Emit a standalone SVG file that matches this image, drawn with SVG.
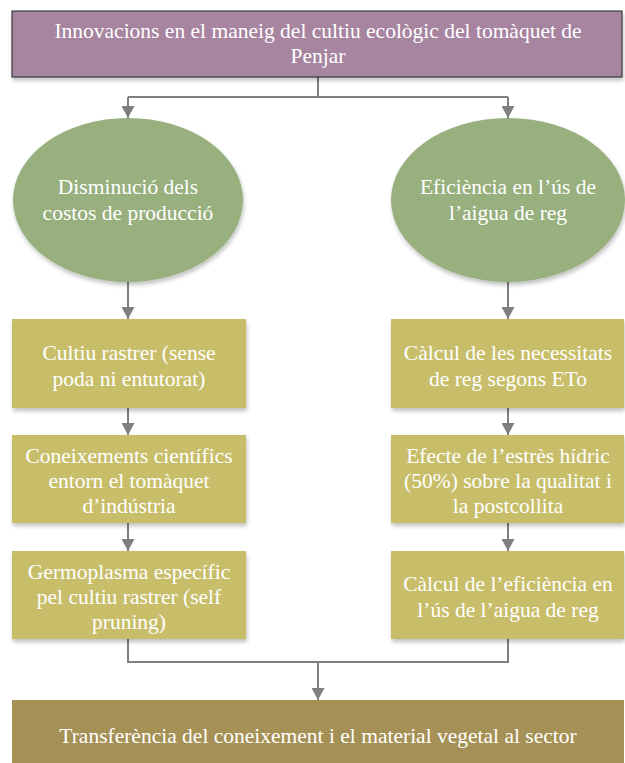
<svg xmlns="http://www.w3.org/2000/svg" width="625" height="763" viewBox="0 0 625 763">
<defs>
<filter id="sh" x="-10%" y="-10%" width="130%" height="140%">
<feGaussianBlur in="SourceAlpha" stdDeviation="2"/>
<feOffset dx="1" dy="3" result="b"/>
<feComponentTransfer><feFuncA type="linear" slope="0.25"/></feComponentTransfer>
<feMerge><feMergeNode/><feMergeNode in="SourceGraphic"/></feMerge>
</filter>
<marker id="ar" markerWidth="13" markerHeight="13" refX="12" refY="6.5" orient="auto" markerUnits="userSpaceOnUse" viewBox="0 0 13 13">
<path d="M0,0 L12,6.5 L0,13 Z" fill="#7F7F7F"/>
</marker>
</defs>
<style>
text{font-family:"Liberation Serif","DejaVu Serif",serif;font-size:21.5px;fill:#fff;text-anchor:middle}
.box{fill:#C8BE6A;filter:url(#sh)}
.ell{fill:#98AF7E;filter:url(#sh)}
.c{fill:none;stroke:#7F7F7F;stroke-width:2}
</style>
<g id="connectors">
<path class="c" d="M318,77 V97 M128,97 H508"/>
<path class="c" d="M128,97 V118" marker-end="url(#ar)"/>
<path class="c" d="M508,97 V118" marker-end="url(#ar)"/>
<path class="c" d="M128,282 V319" marker-end="url(#ar)"/>
<path class="c" d="M508,282 V319" marker-end="url(#ar)"/>
<path class="c" d="M128,408 V435" marker-end="url(#ar)"/>
<path class="c" d="M508,408 V435" marker-end="url(#ar)"/>
<path class="c" d="M128,523 V551" marker-end="url(#ar)"/>
<path class="c" d="M508,523 V551" marker-end="url(#ar)"/>
<path class="c" d="M128,639 V662 H508 V639"/>
<path class="c" d="M318,662 V700" marker-end="url(#ar)"/>
</g>
<g id="top">
<rect x="12" y="11" width="610" height="66" fill="#A7849F" stroke="#222" stroke-width="1" filter="url(#sh)"/>
<text x="318" y="38">Innovacions en el maneig del cultiu ecològic del tomàquet de</text>
<text x="318" y="63">Penjar</text>
</g>
<g id="ellipseL">
<ellipse class="ell" cx="128" cy="200" rx="115" ry="82"/>
<text x="128" y="194">Disminució dels</text>
<text x="128" y="220">costos de producció</text>
</g>
<g id="ellipseR">
<ellipse class="ell" cx="508" cy="200" rx="117" ry="82"/>
<text x="508" y="194">Eficiència en l’ús de</text>
<text x="508" y="220">l’aigua de reg</text>
</g>
<g id="L1">
<rect class="box" x="12" y="319" width="234" height="89"/>
<text x="129" y="360">Cultiu rastrer (sense</text>
<text x="129" y="386">poda ni entutorat)</text>
</g>
<g id="L2">
<rect class="box" x="12" y="435" width="234" height="88"/>
<text x="129" y="463">Coneixements científics</text>
<text x="129" y="488">entorn el tomàquet</text>
<text x="129" y="513">d’indústria</text>
</g>
<g id="L3">
<rect class="box" x="12" y="551" width="234" height="88"/>
<text x="129" y="579">Germoplasma específic</text>
<text x="129" y="604">pel cultiu rastrer (self</text>
<text x="129" y="629">pruning)</text>
</g>
<g id="R1">
<rect class="box" x="391" y="319" width="233" height="89"/>
<text x="508" y="360">Càlcul de les necessitats</text>
<text x="508" y="386">de reg segons ETo</text>
</g>
<g id="R2">
<rect class="box" x="391" y="435" width="233" height="88"/>
<text x="508" y="463">Efecte de l’estrès hídric</text>
<text x="508" y="488">(50%) sobre la qualitat i</text>
<text x="508" y="513">la postcollita</text>
</g>
<g id="R3">
<rect class="box" x="391" y="551" width="233" height="88"/>
<text x="508" y="591">Càlcul de l’eficiència en</text>
<text x="508" y="617">l’ús de l’aigua de reg</text>
</g>
<g id="bottom">
<rect x="12" y="700" width="612" height="70" fill="#A59155"/>
<text x="318" y="743">Transferència del coneixement i el material vegetal al sector</text>
</g>
</svg>
